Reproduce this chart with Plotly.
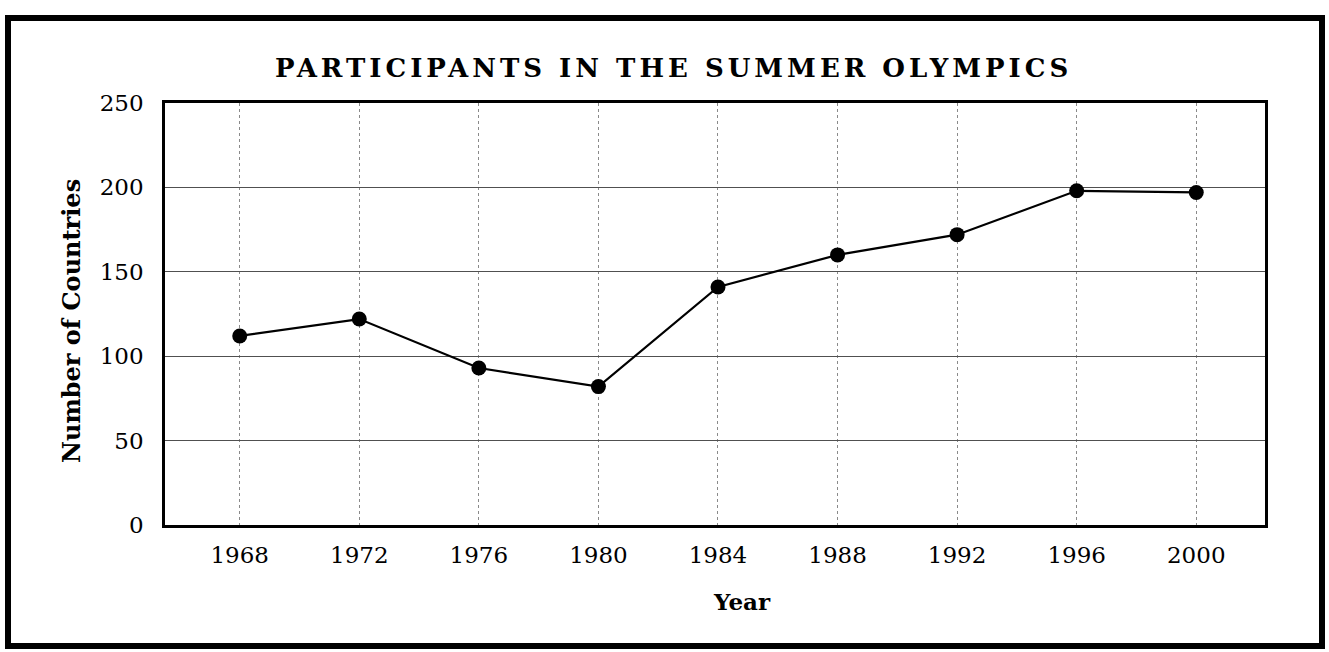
import plotly.graph_objects as go

years = [1968, 1972, 1976, 1980, 1984, 1988, 1992, 1996, 2000]
countries = [112, 122, 93, 82, 141, 160, 172, 198, 197]
y_ticks = [0, 50, 100, 150, 200, 250]

FONT = "DejaVu Serif"

fig = go.Figure()
fig.add_trace(go.Scatter(
    x=years, y=countries, mode="lines+markers",
    line=dict(color="black", width=2.2),
    marker=dict(color="black", size=15),
    showlegend=False,
))

title_txt = "<b><span style='letter-spacing:4px'>PARTICIPANTS IN THE SUMMER OLYMPICS</span></b>"

fig.update_layout(
    width=1329, height=652,
    margin=dict(l=165, r=64, t=103, b=127),
    paper_bgcolor="white", plot_bgcolor="white",
    font=dict(family=FONT, color="black", size=23),
    xaxis=dict(
        range=[1965.5, 2002.3], tickvals=years, ticktext=[str(y) for y in years],
        showgrid=True, gridcolor="#8a8a8a", gridwidth=1, griddash="dot",
        showline=True, linecolor="black", linewidth=2.5, mirror=True,
        ticks="", ticklabelstandoff=8, zeroline=False,
    ),
    yaxis=dict(
        range=[0, 250], tickvals=y_ticks,
        showgrid=True, gridcolor="#505050", gridwidth=1.3,
        showline=True, linecolor="black", linewidth=2.5, mirror=True,
        ticks="", ticklabelstandoff=14, zeroline=False,
    ),
    annotations=[
        dict(text=title_txt, xref="paper", yref="paper", x=(673 - 165) / 1100, y=(525 - 68) / 422,
             showarrow=False, xanchor="center", yanchor="middle", font=dict(family=FONT, size=26)),
        dict(text="<b>Number of Countries</b>", xref="paper", yref="paper",
             x=(71 - 165) / 1100, y=(525 - 321) / 422, textangle=-90, showarrow=False,
             xanchor="center", yanchor="middle", font=dict(family=FONT, size=24)),
        dict(text="<b>Year</b>", xref="paper", yref="paper",
             x=(742 - 165) / 1100, y=(525 - 601) / 422, showarrow=False,
             xanchor="center", yanchor="middle", font=dict(family=FONT, size=23)),
    ],
    shapes=[
        dict(type="rect", xref="paper", yref="paper",
             x0=(8 - 165) / 1100, x1=(1322 - 165) / 1100,
             y0=(525 - 646) / 422, y1=(525 - 18) / 422,
             line=dict(color="black", width=6), fillcolor="rgba(0,0,0,0)", layer="below"),
    ],
)

fig.write_html("out.html", config={"displayModeBar": False},
               post_script="document.body.style.margin='0px';document.body.style.overflow='hidden';")
